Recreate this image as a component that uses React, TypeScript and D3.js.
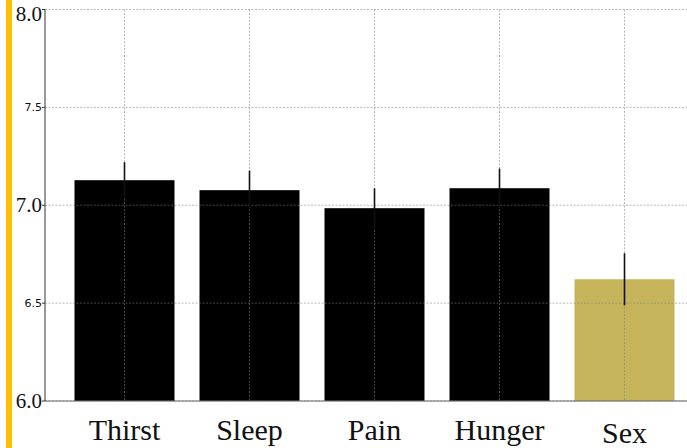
import * as d3 from 'd3'

const categories = ['Thirst', 'Sleep', 'Pain', 'Hunger', 'Sex']
const means = [7.128, 7.077, 6.985, 7.087, 6.622]
const errors = [0.092, 0.1, 0.102, 0.1, 0.133]
const barColors = ['#000000', '#000000', '#000000', '#000000', '#c5b45a']
const yTicks = [6.0, 6.5, 7.0, 7.5, 8.0]
const labelOffset = [0, 0, 0, 0, 3]

const W = 687
const H = 448
const left = 45
const bottom = 401
const top = 9.5

export default function App() {
  const x = d3.scaleBand<string>().domain(categories).range([62, W]).paddingInner(0.2).paddingOuter(0.1)
  const y = d3.scaleLinear().domain([6, 8]).range([bottom, top])
  const grid = 'rgba(128,128,128,0.55)'
  const cx = (c: string) => x(c)! + x.bandwidth() / 2

  return (
    <svg width={W} height={H} style={{ position: 'absolute', left: 0, top: 0, background: '#fff' }}>
      <rect x={6} y={0} width={6} height={H} fill="#ffc000" />

      {categories.map((c, i) => (
        <rect key={c} x={x(c)} y={y(means[i])} width={x.bandwidth()} height={bottom - y(means[i])} fill={barColors[i]} />
      ))}

      {/* grid on top of bars */}
      {yTicks.map(t => (
        <line key={t} x1={left} x2={W} y1={y(t)} y2={y(t)} stroke={grid} strokeWidth={1} strokeDasharray="2,1.5" />
      ))}
      {categories.map(c => (
        <line key={c} x1={cx(c)} x2={cx(c)} y1={top} y2={bottom} stroke={grid} strokeWidth={1} strokeDasharray="2,1.5" />
      ))}

      {categories.map((c, i) => (
        <line
          key={c}
          x1={cx(c)}
          x2={cx(c)}
          y1={y(means[i] - errors[i])}
          y2={y(means[i] + errors[i])}
          stroke="#111"
          strokeWidth={1.6}
        />
      ))}

      <line x1={left} x2={W} y1={bottom} y2={bottom} stroke="#666" strokeWidth={1} />
      <line x1={left} x2={left} y1={top} y2={bottom} stroke="#333" strokeWidth={1} />

      {yTicks.map((t, i) => {
        const big = i % 2 === 0
        const base = big ? Math.max(y(t) + 7, 21) : y(t) + 4
        return (
          <g key={t}>
            <line x1={left - 3} x2={left} y1={y(t)} y2={y(t)} stroke="#333" />
            <text
              x={left - 3}
              y={base}
              textAnchor="end"
              fontFamily={big ? '"Liberation Serif", serif' : '"DejaVu Sans", sans-serif'}
              fontSize={big ? 21 : 11}
              fill="#111"
            >
              {t.toFixed(1)}
            </text>
          </g>
        )
      })}

      {categories.map((c, i) => (
        <text
          key={c}
          x={cx(c)}
          y={440 + labelOffset[i]}
          textAnchor="middle"
          fontFamily='"Liberation Serif", serif'
          fontSize={30}
          fill="#111"
        >
          {c}
        </text>
      ))}
    </svg>
  )
}
